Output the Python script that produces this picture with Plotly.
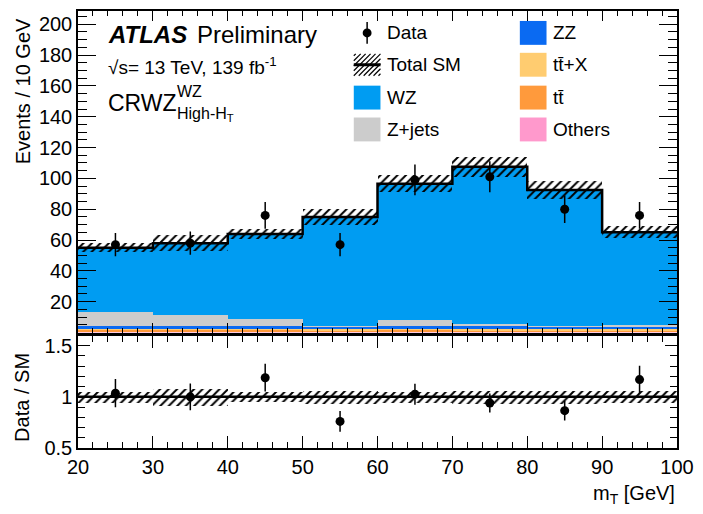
import numpy as np
import plotly.graph_objects as go

# ---------------- data ----------------
bin_edges = [20, 30, 40, 50, 60, 70, 80, 90, 100]
bin_centers = [25, 35, 45, 55, 65, 75, 85, 95]
data_counts = [57, 58, 76, 57, 99, 101, 80, 76]
wz = [41.4, 46.5, 55.0, 70.5, 88.4, 101.8, 88.1, 59.8]
zjets = [9.5, 7.5, 4.8, 0.3, 3.7, 1.3, 0.2, 1.3]
zz = [1.6, 1.5, 1.7, 1.8, 1.8, 1.9, 1.8, 1.7]
ttx = [0.7, 0.7, 0.8, 0.8, 0.9, 0.9, 0.8, 0.8]
tt = [1.2, 1.2, 1.1, 1.0, 1.0, 0.9, 0.9, 0.8]
others = [0.6, 0.6, 0.6, 0.6, 0.7, 0.7, 0.7, 0.6]
sm_unc = [3.0, 5.0, 3.2, 5.0, 5.4, 6.5, 6.0, 3.8]
main_ticks = [20, 40, 60, 80, 100, 120, 140, 160, 180, 200]
ratio_ticks = [0.5, 1.0, 1.5]
ratio_ticktext = ["0.5", "1", "1.5"]

# ---------------- styles ----------------
W, H = 703, 514
ML, MR, MT, MB = 78, 19, 9, 66
PW, PH = W - ML - MR, H - MT - MB
FONT = "Liberation Sans, Arial, Helvetica, sans-serif"

def fx(p):
    return (p - ML) / PW

def fy(p):
    return (H - MB - p) / PH

colors = {
    "WZ": "#009CF2",
    "Z+jets": "#CCCCCC",
    "ZZ": "#0A6AF2",
    "ttX": "#FFCC70",
    "tt": "#FF9A3C",
    "Others": "#FF99CC",
}

stack = [("Others", others), ("tt", tt), ("ttX", ttx), ("ZZ", zz),
         ("Z+jets", zjets), ("WZ", wz)]

fig = go.Figure()
base = np.zeros(len(bin_centers))
for name, vals in stack:
    vals = np.array(vals)
    fig.add_trace(go.Bar(x=bin_centers, y=vals, base=base, width=10,
                         marker=dict(color=colors[name], line=dict(width=0)),
                         xaxis="x", yaxis="y", showlegend=False, name=name))
    base = base + vals
total = base
unc = np.array(sm_unc)

hatch = dict(color="rgba(0,0,0,0)", line=dict(width=0),
             pattern=dict(shape="/", fgcolor="black", bgcolor="rgba(0,0,0,0)",
                          fgopacity=1, size=6, solidity=0.33, fillmode="overlay"))
fig.add_trace(go.Bar(x=bin_centers, y=2 * unc, base=total - unc, width=10,
                     marker=hatch, xaxis="x", yaxis="y", showlegend=False))
fig.add_trace(go.Scatter(x=bin_edges, y=list(total) + [total[-1]], mode="lines",
                         line=dict(shape="hv", color="black", width=2.5),
                         xaxis="x", yaxis="y", showlegend=False))
dc = np.array(data_counts, dtype=float)
fig.add_trace(go.Scatter(x=bin_centers, y=dc, mode="markers",
                         marker=dict(size=9, color="black"),
                         error_y=dict(type="data", array=np.sqrt(dc), width=0,
                                      thickness=1.5, color="black"),
                         xaxis="x", yaxis="y", showlegend=False))

# ratio panel
rel = unc / total
fig.add_trace(go.Bar(x=bin_centers, y=2 * rel, base=1 - rel, width=10,
                     marker=hatch, xaxis="x2", yaxis="y2", showlegend=False))
fig.add_trace(go.Scatter(x=bin_centers, y=dc / total, mode="markers",
                         marker=dict(size=9, color="black"),
                         error_y=dict(type="data", array=np.sqrt(dc) / total, width=0,
                                      thickness=1.5, color="black"),
                         xaxis="x2", yaxis="y2", showlegend=False))

shapes = [dict(type="line", xref="x2 domain", yref="y2", x0=0, x1=1, y0=1, y1=1,
               line=dict(color="black", width=2.5))]
annotations = []

axis_common = dict(showgrid=False, zeroline=False, showline=True, linecolor="black",
                   linewidth=1.5, mirror="allticks", ticks="inside", tickcolor="black",
                   tickwidth=1, tickfont=dict(family=FONT, size=20, color="black"))
twin_common = dict(showgrid=False, zeroline=False, showline=False, ticks="inside",
                   tickcolor="black", tickwidth=1, showticklabels=False)

top_y0 = fy(332)
bot_y1 = fy(335)

x_top = dict(range=[20, 100], tickmode="linear", tick0=20, dtick=10, ticklen=10,
             minor=dict(ticks="inside", ticklen=5, dtick=2, tick0=20, tickcolor="black"))
y_top = dict(range=[0, 208.6], tickmode="array", tickvals=main_ticks, ticklen=18,
             minor=dict(ticks="inside", ticklen=9, dtick=5, tick0=0, tickcolor="black"))
x_bot = dict(range=[20, 100], tickmode="linear", tick0=20, dtick=10, ticklen=12,
             minor=dict(ticks="inside", ticklen=6, dtick=2, tick0=20, tickcolor="black"))
y_bot = dict(range=[0.5, 1.6], tickmode="array", tickvals=ratio_ticks, ticklen=12,
             minor=dict(ticks="inside", ticklen=7, dtick=0.1, tick0=0.5, tickcolor="black"))

layout = dict(
    width=W, height=H, margin=dict(l=ML, r=MR, t=MT, b=MB),
    paper_bgcolor="white", plot_bgcolor="white", barmode="overlay", bargap=0,
    font=dict(family=FONT, color="black"),
    xaxis=dict(domain=[0, 1], anchor="y", showticklabels=False, **x_top, **axis_common),
    yaxis=dict(domain=[top_y0, 1], anchor="x", ticktext=[str(t) for t in main_ticks],
               **y_top, **axis_common),
    xaxis2=dict(domain=[0, 1], anchor="y2", **x_bot, **axis_common),
    yaxis2=dict(domain=[0, bot_y1], anchor="x2", ticktext=ratio_ticktext,
                **y_bot, **axis_common),
    # twin axes to guarantee ticks (incl. minor) on the opposite frame sides
    xaxis3=dict(overlaying="x", anchor="y", side="top", **x_top, **twin_common),
    yaxis3=dict(overlaying="y", anchor="x", side="right", **y_top, **twin_common),
    xaxis4=dict(overlaying="x2", anchor="y2", side="top", **x_bot, **twin_common),
    yaxis4=dict(overlaying="y2", anchor="x2", side="right", **y_bot, **twin_common),
)

# invisible helpers so the twin axes are drawn
fig.add_trace(go.Scatter(x=[20, 100], y=[0, 0], mode="lines", line=dict(width=0),
                         xaxis="x3", yaxis="y3", showlegend=False, hoverinfo="skip"))
fig.add_trace(go.Scatter(x=[20, 100], y=[1, 1], mode="lines", line=dict(width=0),
                         xaxis="x4", yaxis="y4", showlegend=False, hoverinfo="skip"))

def txt(text, x, y, size, xanchor="left", yanchor="middle", angle=0):
    annotations.append(dict(text=text, x=fx(x), y=fy(y), xref="paper", yref="paper",
                            xanchor=xanchor, yanchor=yanchor, showarrow=False,
                            textangle=angle,
                            font=dict(family=FONT, size=size, color="black")))

# axis titles
txt("Events / 10 GeV", 22, 90, 20, xanchor="center", angle=-90)
txt("Data / SM", 22, 397, 20, xanchor="center", angle=-90)
txt("m<sub>T</sub> [GeV]", 684, 495, 20, xanchor="right")

# ATLAS labels
txt("<b><i>ATLAS</i></b>", 106, 33, 24)
txt("Preliminary", 196, 33, 24)
txt("\u221As= 13 TeV, 139 fb<sup>-1</sup>", 106, 64, 19)
txt("CRWZ", 106, 101, 23)
txt("WZ", 176, 90, 16)
txt("High-H<sub>T</sub>", 176, 113, 16)

# legend
col1_box, col2_box = (357, 384), (525, 552)
rows = [31, 63, 96, 128]
legend_boxes = [(col1_box, rows[2], colors["WZ"], "WZ"),
                (col1_box, rows[3], colors["Z+jets"], "Z+jets"),
                (col2_box, rows[0], colors["ZZ"], "ZZ"),
                (col2_box, rows[1], colors["ttX"], "tt\u0304+X"),
                (col2_box, rows[2], colors["tt"], "tt\u0304"),
                (col2_box, rows[3], colors["Others"], "Others")]
for (bx0, bx1), yc, col, label in legend_boxes:
    shapes.append(dict(type="rect", xref="paper", yref="paper", x0=fx(bx0), x1=fx(bx1),
                       y0=fy(yc + 12), y1=fy(yc - 12), fillcolor=col, line=dict(width=0)))
    txt(label, bx1 + 5, yc, 19)

# Data legend entry
cx = (col1_box[0] + col1_box[1]) / 2
shapes.append(dict(type="line", xref="paper", yref="paper", x0=fx(cx), x1=fx(cx),
                   y0=fy(rows[0] + 11), y1=fy(rows[0] - 11), line=dict(color="black", width=1.5)))
shapes.append(dict(type="circle", xref="paper", yref="paper", x0=fx(cx - 4.5), x1=fx(cx + 4.5),
                   y0=fy(rows[0] + 4.5), y1=fy(rows[0] - 4.5), fillcolor="black",
                   line=dict(color="black", width=0)))
txt("Data", col1_box[1] + 5, rows[0], 19)

# Total SM legend entry (hatched box + line)
hx0, hx1 = col1_box
hy0, hy1 = rows[1] - 11, rows[1] + 11
c = hx0 + hy0 + 2
while c < hx1 + hy1:
    xa = max(hx0, c - hy1)
    xb = min(hx1, c - hy0)
    if xb > xa:
        shapes.append(dict(type="line", xref="paper", yref="paper",
                           x0=fx(xa), y0=fy(c - xa), x1=fx(xb), y1=fy(c - xb),
                           line=dict(color="black", width=1.2)))
    c += 5
shapes.append(dict(type="line", xref="paper", yref="paper", x0=fx(hx0), x1=fx(hx1),
                   y0=fy(rows[1]), y1=fy(rows[1]), line=dict(color="black", width=3)))
txt("Total SM", col1_box[1] + 5, rows[1], 19)

layout["shapes"] = shapes
layout["annotations"] = annotations
fig.update_layout(**layout)
fig.write_html("out.html")
